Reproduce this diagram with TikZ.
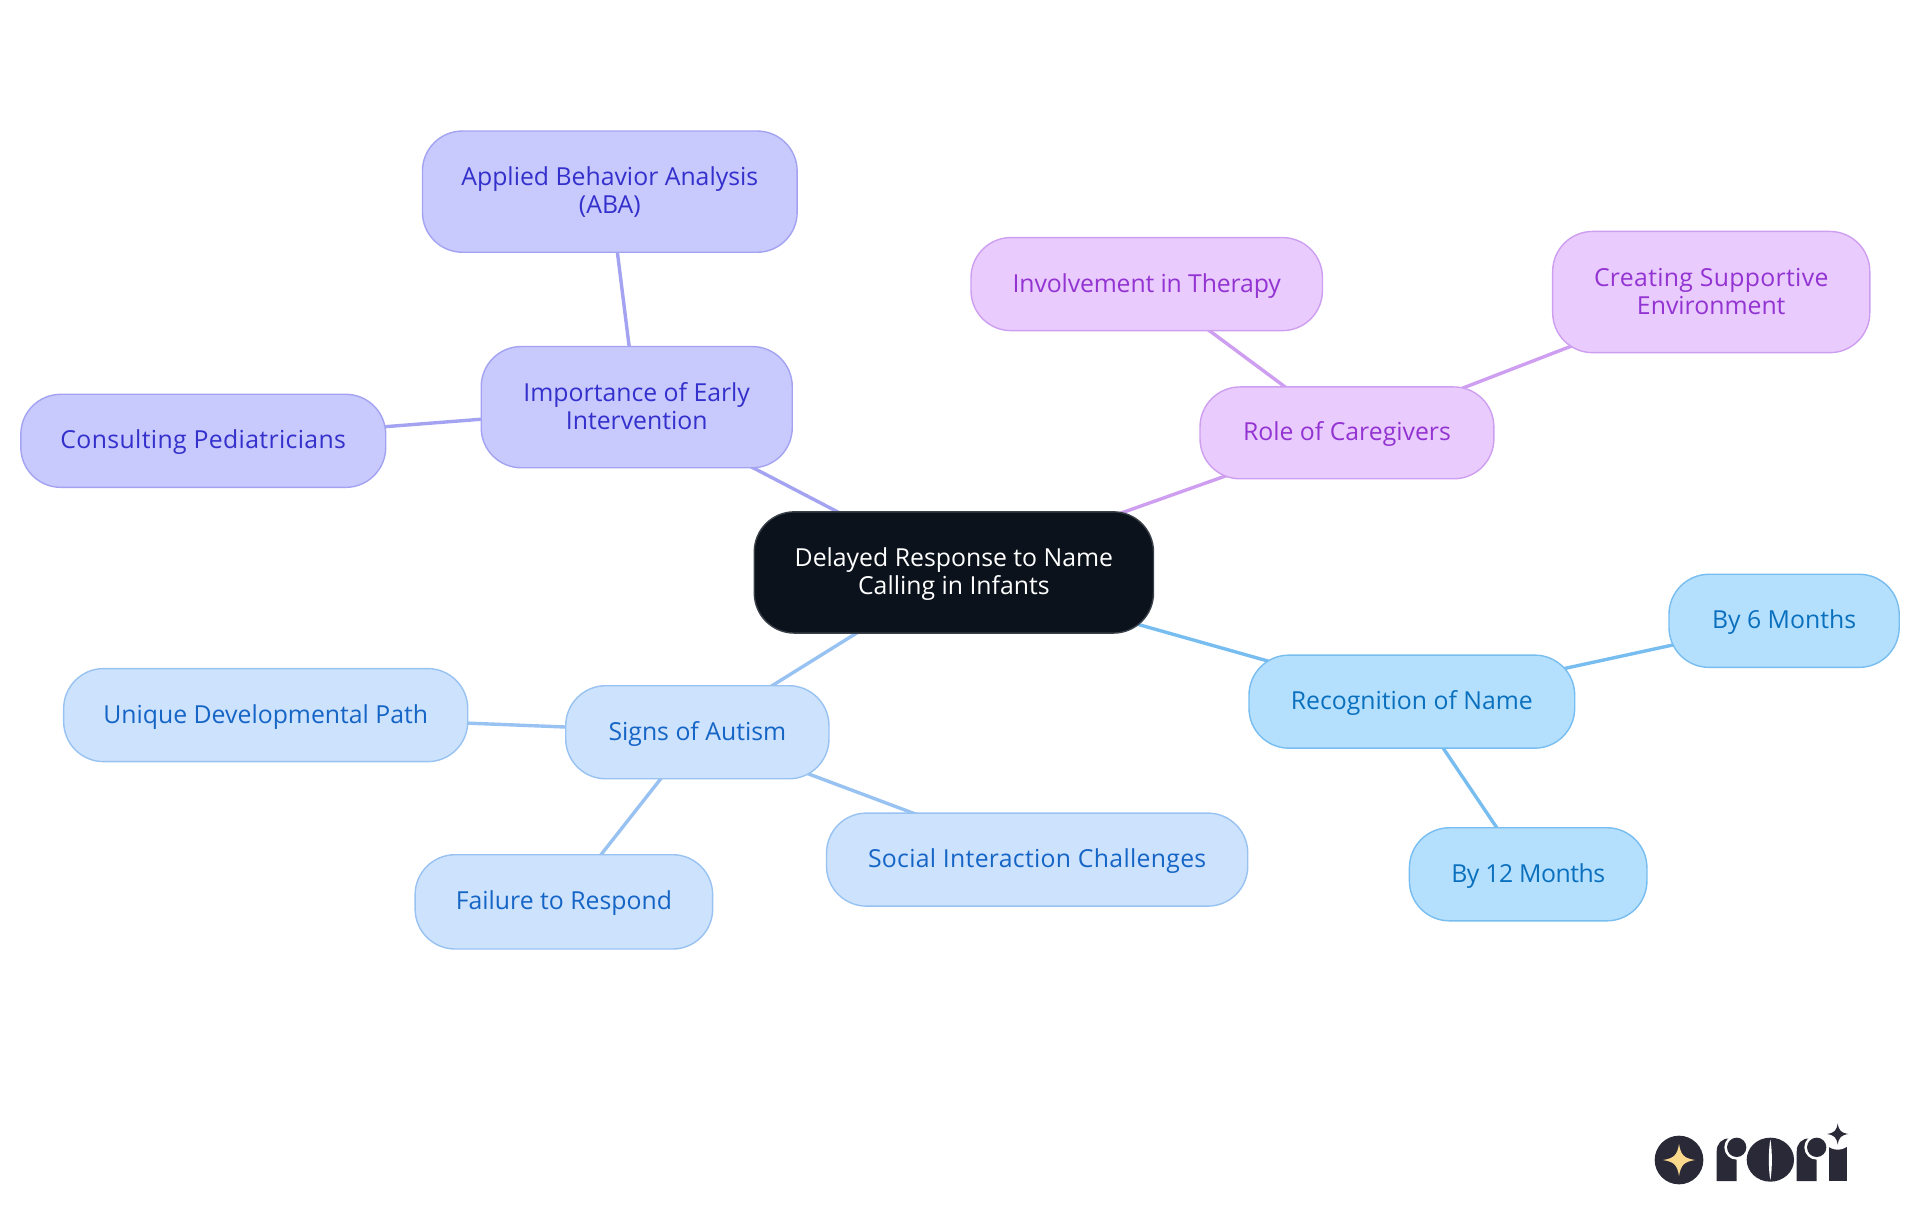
\documentclass[tikz,border=0pt]{standalone}
\usepackage{fontspec}
\setmainfont{Open Sans}
\usetikzlibrary{backgrounds}
\definecolor{rootfill}{HTML}{0B121B}
\definecolor{rootline}{HTML}{3A4048}
\definecolor{indfill}{HTML}{C8C9FD}
\definecolor{indline}{HTML}{A3A3F2}
\definecolor{indtext}{HTML}{3430CC}
\definecolor{blufill}{HTML}{CDE2FC}
\definecolor{bluline}{HTML}{98C2F2}
\definecolor{blutext}{HTML}{1565C6}
\definecolor{skyfill}{HTML}{B4E0FE}
\definecolor{skyline}{HTML}{78BDF0}
\definecolor{skytext}{HTML}{0A70BE}
\definecolor{purfill}{HTML}{E9CCFD}
\definecolor{purline}{HTML}{CE9EF0}
\definecolor{purtext}{HTML}{9333D2}
\definecolor{logodark}{HTML}{2A2937}
\definecolor{logostar}{HTML}{FBD98C}
\newcommand{\mapnode}[7]{%
  \node[mapbox,#2,minimum width={(#5-#3)*0.61224pt},minimum height={(#6-#4)*0.61224pt}]
    (#1) at ({(#3+#5)/2},{(#4+#6)/2}) {\rule{0pt}{12.25pt}#7\strut};}
\newcommand{\spaced}[2]{{\addfontfeature{LetterSpace=#1}#2}}
\newcommand{\fourstar}[4]{%
  \fill[#1] (#2,#3-#4) .. controls (#2+0.12*#4,#3-0.3*#4) and (#2+0.3*#4,#3-0.12*#4) .. (#2+#4,#3)
    .. controls (#2+0.3*#4,#3+0.12*#4) and (#2+0.12*#4,#3+0.3*#4) .. (#2,#3+#4)
    .. controls (#2-0.12*#4,#3+0.3*#4) and (#2-0.3*#4,#3+0.12*#4) .. (#2-#4,#3)
    .. controls (#2-0.3*#4,#3-0.12*#4) and (#2-0.12*#4,#3-0.3*#4) .. (#2,#3-#4) -- cycle;}
\tikzset{
  mapbox/.style={draw,rounded corners=20pt,line width=0.7pt,align=center,inner sep=0pt,
    font=\fontsize{12.4}{14}\selectfont},
  rootbox/.style={fill=rootfill,draw=rootline,text=white},
  indbox/.style={fill=indfill,draw=indline,text=indtext},
  blubox/.style={fill=blufill,draw=bluline,text=blutext},
  skybox/.style={fill=skyfill,draw=skyline,text=skytext},
  purbox/.style={fill=purfill,draw=purline,text=purtext},
  link/.style={line width=1.7pt}
}
\begin{document}
\begin{tikzpicture}[x=0.61224pt,y=-0.61224pt]
\useasboundingbox (0,0) rectangle (1568,992.25);
\mapnode{root}{rootbox}{616}{418}{942}{517}{Delayed Response to Name\\Calling in Infants}
\mapnode{early}{indbox}{393}{283}{647}{382}{Importance of Early\\Intervention}
\mapnode{aba}{indbox}{345}{107}{651}{206}{Applied Behavior Analysis\\(ABA)}
\mapnode{pedi}{indbox}{17}{322}{315}{398}{\spaced{1.45}{Consulting Pediatricians}}
\mapnode{role}{purbox}{980}{316}{1220}{391}{Role of Caregivers}
\mapnode{therapy}{purbox}{793}{194}{1080}{270}{\spaced{-0.6}{Involvement in Therapy}}
\mapnode{env}{purbox}{1268}{189}{1527}{288}{\spaced{1.3}{Creating Supportive}\\Environment}
\mapnode{recog}{skybox}{1020}{535}{1286}{611}{Recognition of Name}
\mapnode{six}{skybox}{1363}{469}{1551}{545}{By 6 Months}
\mapnode{twelve}{skybox}{1151}{676}{1345}{752}{\spaced{-2}{By 12 Months}}
\mapnode{signs}{blubox}{462}{560}{677}{636}{Signs of Autism}
\mapnode{unique}{blubox}{52}{546}{382}{622}{Unique Developmental Path}
\mapnode{fail}{blubox}{339}{698}{582}{775}{Failure to Respond}
\mapnode{social}{blubox}{675}{664}{1019}{740}{\spaced{1.2}{Social Interaction Challenges}}
\begin{scope}[on background layer]
  \draw[link,draw=indline] (root.center) -- (early.center);
  \draw[link,draw=indline] (early.center) -- (aba.center);
  \draw[link,draw=indline] (early.center) -- (pedi.center);
  \draw[link,draw=purline] (root.center) -- (role.center);
  \draw[link,draw=purline] (role.center) -- (therapy.center);
  \draw[link,draw=purline] (role.center) -- (env.center);
  \draw[link,draw=skyline] (root.center) -- (recog.center);
  \draw[link,draw=skyline] (recog.center) -- (six.center);
  \draw[link,draw=skyline] (recog.center) -- (twelve.center);
  \draw[link,draw=bluline] (root.center) -- (signs.center);
  \draw[link,draw=bluline] (signs.center) -- (unique.center);
  \draw[link,draw=bluline] (signs.center) -- (fail.center);
  \draw[link,draw=bluline] (signs.center) -- (social.center);
\end{scope}
% logo
\begin{scope}[shift={(1323,898.33)},x=0.16667pt,y=-0.16667pt]
  \fill[logodark] (177,180) circle[radius=73];
  \fourstar{logostar}{177}{180}{48}
  % first r
  \fill[logodark] (290,243) -- (290,155) .. controls (290,130) and (305,115) .. (330,115) -- (350,115) -- (350,243) -- cycle;
  \fill[white] (350,142) circle[radius=37];
  \fill[logodark] (350,142) circle[radius=29];
  % o
  \fill[logodark] (451,179) ellipse[x radius=71,y radius=66];
  \fill[white] (451,118) .. controls (445,150) and (445,210) .. (451,240) .. controls (457,210) and (457,150) .. (451,118) -- cycle;
  % i
  \fill[logodark] (627,135) rectangle (680,243);
  \fill[white] (653,102) circle[radius=47];
  \fourstar{logodark}{653}{102}{32}
  % second r
  \fill[logodark] (530,243) -- (530,155) .. controls (530,130) and (545,115) .. (570,115) -- (590,115) -- (590,243) -- cycle;
  \fill[white] (590,142) circle[radius=37];
  \fill[logodark] (590,142) circle[radius=29];
\end{scope}
\end{tikzpicture}
\end{document}
